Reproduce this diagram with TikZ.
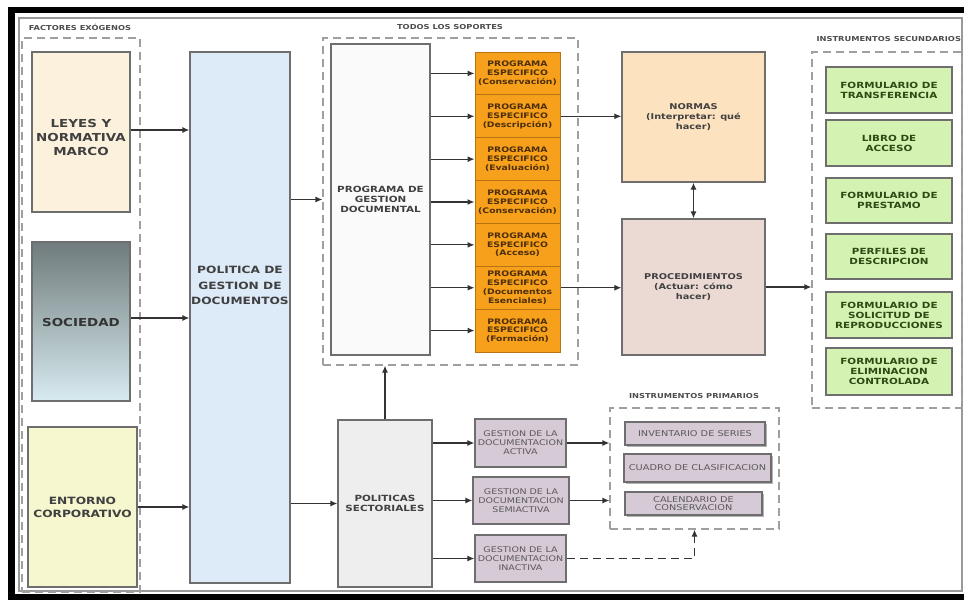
\documentclass[tikz,border=0pt]{standalone}
\usepackage{fontspec}
\setmainfont{DejaVu Sans}[FakeStretch=1.22]
\usetikzlibrary{arrows.meta, positioning, calc, shadows}

\definecolor{boxgray}{HTML}{6E6E6E}
\definecolor{leyesfill}{HTML}{FBF1DC}
\definecolor{soctop}{HTML}{6F7B7C}
\definecolor{socbottom}{HTML}{D8EBF0}
\definecolor{entfill}{HTML}{F6F6CF}
\definecolor{polfill}{HTML}{DDEAF8}
\definecolor{progfill}{HTML}{F7A01C}
\definecolor{progline}{HTML}{B87414}
\definecolor{progtext}{HTML}{4D2E0A}
\definecolor{normfill}{HTML}{FCE2BE}
\definecolor{procfill}{HTML}{EBDAD4}
\definecolor{instfill}{HTML}{D4F2B1}
\definecolor{insttext}{HTML}{2E4A14}
\definecolor{gestfill}{HTML}{D7CAD7}

\begin{document}
\begin{tikzpicture}[x=1pt, y=-1pt,
            box/.style={draw=boxgray, rectangle, line width=1.3pt, inner sep=1pt, align=center, text=black!75, font=\bfseries\fontsize{8.5}{10}\selectfont},
            progbox/.style={draw=progline, fill=progfill, rectangle, line width=1pt, inner sep=0pt, align=center, text=progtext, minimum width=85pt, minimum height=42.86pt, font=\bfseries\fontsize{7.6}{8.8}\selectfont},
            instbox/.style={box, fill=instfill, text=insttext, minimum width=126pt},
            gestbox/.style={box, fill=gestfill, text=black!65, font=\fontsize{7.8}{9}\selectfont},
            primbox/.style={box, fill=gestfill, text=black!65, font=\fontsize{8}{8.6}\selectfont, drop shadow={shadow xshift=1.5pt, shadow yshift=-1.5pt, opacity=0.6}},
            group/.style={draw=gray!75, rectangle, line width=1.2pt, dash pattern=on 8pt off 5pt},
            grouplabel/.style={text=gray!60!black, font=\bfseries\fontsize{6.8}{7}\selectfont},
            arrow/.style={-{Latex[length=7pt,width=6pt]}, line width=1.2pt, draw=black!80}
        ]
    \useasboundingbox (0,0) rectangle (964,600);

    % frame
    \draw[gray!80, line width=1.2pt] (19,18) rectangle (962,591);
    \draw[line width=6.5pt] (964,10) -- (11.5,10) -- (11.5,597) -- (964,597);

    % containers
    \node[group, minimum width=118pt, minimum height=554pt] (fac) at (81,315) {};
    \node[group, minimum width=255pt, minimum height=327pt] (sop) at (450.5,201.5) {};
    \node[group, minimum width=150pt, minimum height=356pt] (sec) at (887,230) {};
    \node[group, minimum width=169pt, minimum height=121pt] (prim) at (694.5,468.5) {};
    \node[grouplabel] (facl) at (80,27) {FACTORES EXÓGENOS};
    \node[grouplabel] (sopl) at (450,27) {TODOS LOS SOPORTES};
    \node[grouplabel, anchor=west] (secl) at (813,39) {INSTRUMENTOS SECUNDARIOS};
    \node[grouplabel] (priml) at (694,396) {INSTRUMENTOS PRIMARIOS};

    % factores exogenos
    \node[box, fill=leyesfill, minimum width=98pt, minimum height=160pt, font=\bfseries\fontsize{11}{14}\selectfont] (leyes) at (81,132) {\\[6pt]LEYES Y\\NORMATIVA\\MARCO};
    \node[box, top color=soctop, bottom color=socbottom, minimum width=98pt, minimum height=159pt, font=\bfseries\fontsize{11}{14}\selectfont, text=black!80] (soc) at (81,321.5) {\\[-4pt]SOCIEDAD};
    \node[box, fill=entfill, minimum width=109pt, minimum height=160pt, font=\bfseries\fontsize{10}{13}\selectfont] (ent) at (82.5,507) {ENTORNO\\CORPORATIVO};

    \node[box, fill=polfill, minimum width=100pt, minimum height=531pt, label={[align=center, text=black!75, font=\bfseries\fontsize{10}{15.5}\selectfont, yshift=32pt]center:POLITICA DE\\GESTION DE\\DOCUMENTOS}] (pol) at (240,317.5) {};

    % programas
    \node[box, fill=gray!4, minimum width=99pt, minimum height=311pt] (pgd) at (380.5,199.5) {PROGRAMA DE\\GESTION\\DOCUMENTAL};
    \foreach \i/\txt in {1/(Conservación), 2/(Descripción), 3/(Evaluación), 4/(Conservación), 5/(Acceso), 6/(Documentos\\Esenciales), 7/(Formación)}
        \node[progbox] (p\i) at (517.5,{52+42.86*(\i-0.5)}) {PROGRAMA\\ESPECIFICO\\\txt};

    \node[box, fill=normfill, minimum width=143pt, minimum height=130pt, font=\bfseries\fontsize{8}{10}\selectfont] (normas) at (693.5,117) {NORMAS\\(Interpretar: qué\\hacer)};
    \node[box, fill=procfill, minimum width=143pt, minimum height=136pt, font=\bfseries\fontsize{8}{10}\selectfont] (proc) at (693.5,287) {PROCEDIMIENTOS\\(Actuar: cómo\\hacer)};

    % instrumentos secundarios
    \node[instbox, minimum height=46pt] (f1) at (889,90) {FORMULARIO DE\\TRANSFERENCIA};
    \node[instbox, minimum height=46pt] (f2) at (889,143) {LIBRO DE\\ACCESO};
    \node[instbox, minimum height=45pt] (f3) at (889,200.5) {FORMULARIO DE\\PRESTAMO};
    \node[instbox, minimum height=45pt] (f4) at (889,256.5) {PERFILES DE\\DESCRIPCION};
    \node[instbox, minimum height=46pt] (f5) at (889,315) {FORMULARIO DE\\SOLICITUD DE\\REPRODUCCIONES};
    \node[instbox, minimum height=47pt] (f6) at (889,371.5) {FORMULARIO DE\\ELIMINACION\\CONTROLADA};

    % politicas sectoriales
    \node[box, fill=gray!13, minimum width=94pt, minimum height=167pt] (polsec) at (385,503.5) {POLITICAS\\SECTORIALES};
    \node[gestbox, minimum width=91pt, minimum height=48pt] (g1) at (520.5,443) {GESTION DE LA\\DOCUMENTACION\\ACTIVA};
    \node[gestbox, minimum width=96pt, minimum height=47pt] (g2) at (521,500.5) {GESTION DE LA\\DOCUMENTACION\\SEMIACTIVA};
    \node[gestbox, minimum width=91pt, minimum height=47pt] (g3) at (520.5,558.5) {GESTION DE LA\\DOCUMENTACION\\INACTIVA};

    % instrumentos primarios
    \node[primbox, minimum width=140pt, minimum height=23pt] (inv) at (695,433.5) {INVENTARIO DE SERIES};
    \node[primbox, minimum width=147pt, minimum height=28pt] (cuadro) at (697.5,468) {CUADRO DE CLASIFICACION};
    \node[primbox, minimum width=137pt, minimum height=23pt] (cal) at (693.5,503.5) {CALENDARIO DE\\CONSERVACION};

    % connectors
    \draw[arrow] (leyes.east |- 0,130) -- (pol.west |- 0,130);
    \draw[arrow] (soc.east |- 0,318) -- (pol.west |- 0,318);
    \draw[arrow] (ent) -- (ent -| pol.west);
    \draw[arrow] (pol.east |- pgd) -- (sop.west |- pgd);
    \draw[arrow] (pol.east |- polsec) -- (polsec.west);

    \foreach \i in {1,...,7}
        \draw[arrow] (pgd.east |- p\i) -- (p\i.west);
    \draw[arrow] (p2.east) -- (p2 -| normas.west);
    \draw[arrow] (p6.east) -- (p6 -| proc.west);
    \draw[{Latex[length=7pt,width=6pt]}-{Latex[length=7pt,width=6pt]}, line width=1.2pt, draw=black!80] (normas.south) -- (proc.north);
    \draw[arrow] (proc.east) -- (proc -| sec.west);

    \draw[arrow] (polsec.north) -- (polsec.north |- sop.south);
    \foreach \i in {1,2,3}
        \draw[arrow] (polsec.east |- g\i) -- (g\i.west);
    \draw[arrow] (g1.east) -- (g1 -| prim.west);
    \draw[arrow] (g2.east) -- (g2 -| prim.west);
    \draw[arrow, dash pattern=on 8pt off 5pt] (g3.east) -| (prim.south);

\end{tikzpicture}
\end{document}
